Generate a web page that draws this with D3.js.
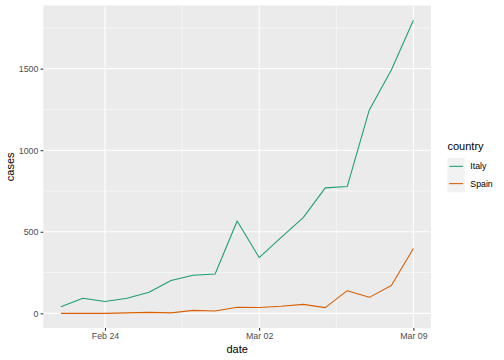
<!DOCTYPE html>
<html>
<head>
<meta charset="utf-8">
<script src="https://cdn.jsdelivr.net/npm/d3@7"></script>
<style>
html,body{margin:0;padding:0;background:#fff;}
svg{display:block;font-family:"Liberation Sans",Arial,Helvetica,sans-serif;}
</style>
</head>
<body>
<svg id="chart" width="504" height="360"></svg>
<script>
const dates = ["2020-02-22","2020-02-23","2020-02-24","2020-02-25","2020-02-26","2020-02-27","2020-02-28","2020-02-29","2020-03-01","2020-03-02","2020-03-03","2020-03-04","2020-03-05","2020-03-06","2020-03-07","2020-03-08","2020-03-09"];
const italy = [41, 92, 73, 92, 129, 201, 233, 241, 566, 342, 466, 587, 769, 778, 1247, 1492, 1797];
const spain = [0, 0, 0, 3, 6, 3, 18, 14, 37, 36, 43, 55, 35, 139, 98, 171, 398];
const countries = ["Italy", "Spain"];
const colors = ["#1B9E77", "#D95F02"];
const yTicks = [0, 500, 1000, 1500];
const yMinor = [250, 750, 1250, 1750];
const xTickLabels = ["2020-02-24", "2020-03-02", "2020-03-09"];
const xMinor = ["2020-02-27T12:00:00Z", "2020-03-05T12:00:00Z"];

const parse = d3.utcParse("%Y-%m-%d");
const series = [
  {name: countries[0], values: dates.map((d, i) => ({date: parse(d), v: italy[i]}))},
  {name: countries[1], values: dates.map((d, i) => ({date: parse(d), v: spain[i]}))}
];

const svg = d3.select("#chart");
const panel = {left: 43.3, right: 431, top: 5.5, bottom: 328};

// scales with ggplot-like 5% expansion
const xExt = d3.extent(dates, d => parse(d));
const xSpan = xExt[1] - xExt[0];
const x = d3.scaleUtc()
  .domain([new Date(+xExt[0] - 0.05 * xSpan), new Date(+xExt[1] + 0.05 * xSpan)])
  .range([panel.left, panel.right]);
const allV = italy.concat(spain);
const yMin = d3.min(allV), yMax = d3.max(allV);
const ySpan = yMax - yMin;
const y = d3.scaleLinear()
  .domain([yMin - 0.05 * ySpan, yMax + 0.05 * ySpan])
  .range([panel.bottom, panel.top]);

const color = d3.scaleOrdinal().domain(countries).range(colors);

// panel background
svg.append("rect")
  .attr("x", panel.left).attr("y", panel.top)
  .attr("width", panel.right - panel.left).attr("height", panel.bottom - panel.top)
  .attr("fill", "#EBEBEB");

const grid = svg.append("g");
// minor grid
grid.selectAll(".ymin").data(yMinor).enter().append("line")
  .attr("x1", panel.left).attr("x2", panel.right)
  .attr("y1", d => y(d)).attr("y2", d => y(d))
  .attr("stroke", "#fff").attr("stroke-width", 0.53);
grid.selectAll(".xmin").data(xMinor).enter().append("line")
  .attr("y1", panel.top).attr("y2", panel.bottom)
  .attr("x1", d => x(new Date(d))).attr("x2", d => x(new Date(d)))
  .attr("stroke", "#fff").attr("stroke-width", 0.53);
// major grid
grid.selectAll(".ymaj").data(yTicks).enter().append("line")
  .attr("x1", panel.left).attr("x2", panel.right)
  .attr("y1", d => y(d)).attr("y2", d => y(d))
  .attr("stroke", "#fff").attr("stroke-width", 1.07);
grid.selectAll(".xmaj").data(xTickLabels).enter().append("line")
  .attr("y1", panel.top).attr("y2", panel.bottom)
  .attr("x1", d => x(parse(d))).attr("x2", d => x(parse(d)))
  .attr("stroke", "#fff").attr("stroke-width", 1.07);

// lines
const line = d3.line().x(d => x(d.date)).y(d => y(d.v));
svg.append("g").selectAll("path").data(series).enter().append("path")
  .attr("d", d => line(d.values))
  .attr("fill", "none")
  .attr("stroke", d => color(d.name))
  .attr("stroke-width", 1.07)
  .attr("stroke-linejoin", "round");

// axes
const xAxis = d3.axisBottom(x)
  .tickValues(xTickLabels.map(parse))
  .tickFormat(d3.utcFormat("%b %d"))
  .tickSize(2.75).tickPadding(2.4);
const gx = svg.append("g").attr("transform", `translate(0,${panel.bottom})`).call(xAxis);
gx.select(".domain").remove();
gx.selectAll(".tick line").attr("stroke", "#333333").attr("stroke-width", 1.07);
gx.selectAll(".tick text").attr("fill", "#4D4D4D").attr("font-size", "8.8px")
  .attr("font-family", "Liberation Sans, Arial, sans-serif");

const yAxis = d3.axisLeft(y).tickValues(yTicks).tickFormat(d3.format("d"))
  .tickSize(2.75).tickPadding(2.2);
const gy = svg.append("g").attr("transform", `translate(${panel.left},0)`).call(yAxis);
gy.select(".domain").remove();
gy.selectAll(".tick line").attr("stroke", "#333333").attr("stroke-width", 1.07);
gy.selectAll(".tick text").attr("fill", "#4D4D4D").attr("font-size", "8.8px")
  .attr("font-family", "Liberation Sans, Arial, sans-serif");

// axis titles
svg.append("text")
  .attr("x", (panel.left + panel.right) / 2).attr("y", 352.5)
  .attr("text-anchor", "middle").attr("font-size", "11px").attr("fill", "#000")
  .text("date");
svg.append("text")
  .attr("transform", `translate(13.5,${(panel.top + panel.bottom) / 2}) rotate(-90)`)
  .attr("text-anchor", "middle").attr("font-size", "11px").attr("fill", "#000")
  .text("cases");

// legend
const lg = svg.append("g").attr("transform", "translate(447.5,0)");
lg.append("text").attr("x", 0).attr("y", 150).attr("font-size", "11px").attr("fill", "#000").text("country");
const keySize = 17.28, keyTop = 157.7;
const items = lg.selectAll(".item").data(countries).enter().append("g")
  .attr("transform", (d, i) => `translate(0,${keyTop + i * keySize})`);
items.append("rect").attr("width", keySize).attr("height", keySize).attr("fill", "#F2F2F2");
items.append("line")
  .attr("x1", keySize * 0.1).attr("x2", keySize * 0.9)
  .attr("y1", keySize / 2).attr("y2", keySize / 2)
  .attr("stroke", d => color(d)).attr("stroke-width", 1.07);
items.append("text")
  .attr("x", keySize + 5.5).attr("y", keySize / 2).attr("dy", "0.35em")
  .attr("font-size", "8.8px").attr("fill", "#000").text(d => d);
</script>
</body>
</html>
